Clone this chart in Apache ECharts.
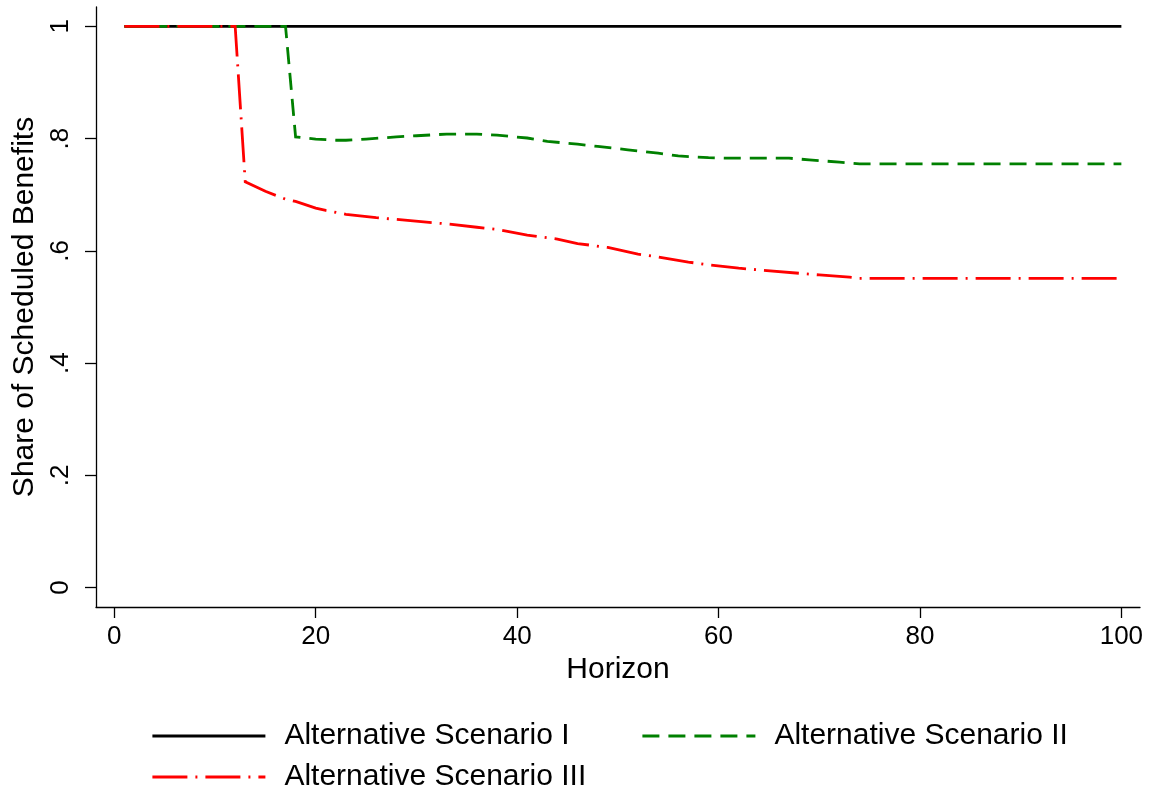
<!DOCTYPE html>
<html>
<head>
<meta charset="utf-8">
<script src="https://cdn.jsdelivr.net/npm/echarts@6/dist/echarts.min.js"></script>
<style>
html,body{margin:0;padding:0;background:#fff;}
#c{width:1151px;height:793px;}
</style>
</head>
<body>
<div id="c"></div>
<script>
// ---- data ----
var xTicks = [0, 20, 40, 60, 80, 100];
var yTicks = [0, 0.2, 0.4, 0.6, 0.8, 1];
var yTickLabels = ['0', '.2', '.4', '.6', '.8', '1'];
var seriesNames = ['Alternative Scenario I', 'Alternative Scenario II', 'Alternative Scenario III'];

var scenarioI = [[1, 1], [100, 1]];

var scenarioII = [
  [1, 1], [17, 1], [18, 0.803], [20, 0.799], [22, 0.797], [23, 0.797], [25, 0.799],
  [28, 0.803], [30, 0.805], [33, 0.808], [36, 0.808], [38, 0.806], [41, 0.801],
  [43, 0.795], [46, 0.790], [48, 0.786], [51, 0.780], [54, 0.774], [56, 0.769],
  [59, 0.766], [61, 0.765], [64, 0.765], [67, 0.765], [69, 0.762], [72, 0.758],
  [74, 0.755], [100, 0.755]
];

var scenarioIII = [
  [1, 1], [12, 1], [13, 0.723], [15, 0.706], [17, 0.692], [18, 0.688], [20, 0.676],
  [21, 0.672], [23, 0.665], [26, 0.659], [28, 0.656], [31, 0.651], [33, 0.648],
  [36, 0.642], [38, 0.638], [41, 0.628], [44, 0.621], [46, 0.613], [49, 0.606],
  [52, 0.594], [54, 0.589], [57, 0.580], [59, 0.575], [62, 0.569], [64, 0.566],
  [68, 0.560], [70, 0.557], [73, 0.553], [74, 0.551], [100, 0.551]
];

// ---- chart ----
var FONT = 'Liberation Sans, Arial, Helvetica, sans-serif';
var chart = echarts.init(document.getElementById('c'), null, {renderer: 'canvas'});

function legendCfg(name, left, top) {
  return {
    data: [name],
    left: left, top: top,
    orient: 'horizontal',
    itemWidth: 113, itemHeight: 20,
    selectedMode: false,
    itemStyle: {opacity: 0},
    lineStyle: {width: 2.8},
    textStyle: {fontFamily: FONT, fontSize: 30, color: '#000', padding: [0, 0, 0, 14]}
  };
}

chart.setOption({
  animation: false,
  backgroundColor: '#fff',
  grid: {left: 96, right: 11, top: 7, bottom: 186, containLabel: false, outerBoundsMode: 'none'},
  xAxis: {
    type: 'value',
    min: -1.82, max: 101.85,
    name: 'Horizon',
    nameLocation: 'middle',
    nameGap: 48,
    nameTextStyle: {fontFamily: FONT, fontSize: 30, color: '#000'},
    axisLine: {show: true, onZero: false, lineStyle: {color: '#000', width: 1.3}},
    axisTick: {show: true, length: 11, customValues: xTicks, lineStyle: {color: '#000', width: 1.3}},
    axisLabel: {customValues: xTicks, fontFamily: FONT, fontSize: 26, color: '#000', margin: 17},
    splitLine: {show: false}
  },
  yAxis: {
    type: 'value',
    min: -0.0346, max: 1.0344,
    name: 'Share of Scheduled Benefits',
    nameLocation: 'middle',
    nameGap: 48,
    nameRotate: 90,
    nameTextStyle: {fontFamily: FONT, fontSize: 30, color: '#000'},
    axisLine: {show: true, onZero: false, lineStyle: {color: '#000', width: 1.3}},
    axisTick: {show: true, length: 11, customValues: yTicks, lineStyle: {color: '#000', width: 1.3}},
    axisLabel: {
      customValues: yTicks, rotate: 90, fontFamily: FONT, fontSize: 26, color: '#000', margin: 22,
      formatter: function (v) {
        for (var i = 0; i < yTicks.length; i++) {
          if (Math.abs(v - yTicks[i]) < 1e-9) return yTickLabels[i];
        }
        return '';
      }
    },
    splitLine: {show: false}
  },
  legend: [
    legendCfg(seriesNames[0], 146, 716),
    legendCfg(seriesNames[1], 636, 716),
    legendCfg(seriesNames[2], 146, 757)
  ],
  series: [
    {
      name: seriesNames[0], type: 'line', data: scenarioI, symbol: 'none', z: 1,
      lineStyle: {color: '#000000', width: 2.8, type: 'solid'},
      itemStyle: {color: '#000000'}
    },
    {
      name: seriesNames[1], type: 'line', data: scenarioII, symbol: 'none', z: 2,
      lineStyle: {color: '#008000', width: 2.8, type: [17, 9], cap: 'butt', join: 'miter'},
      itemStyle: {color: '#008000'}
    },
    {
      name: seriesNames[2], type: 'line', data: scenarioIII, symbol: 'none', z: 3,
      lineStyle: {color: '#ff0000', width: 2.8, type: [35, 8, 2, 8], cap: 'butt', join: 'miter'},
      itemStyle: {color: '#ff0000'}
    }
  ]
});
</script>
</body>
</html>
